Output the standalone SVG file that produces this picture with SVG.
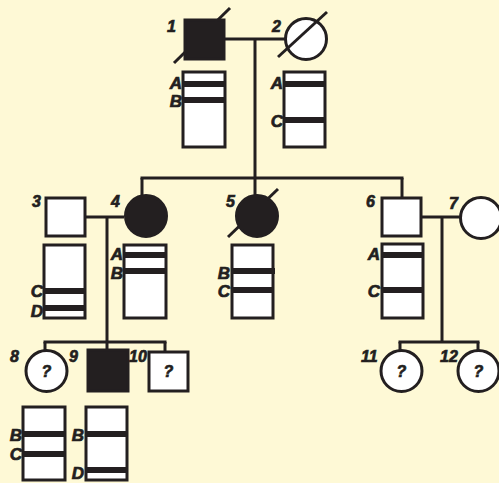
<svg xmlns="http://www.w3.org/2000/svg" width="499" height="483" viewBox="0 0 499 483">
<style>
.ln{stroke:#231F20;stroke-width:3;fill:none}
.sym{stroke:#231F20;stroke-width:3;fill:#fff}
.aff{stroke:#231F20;stroke-width:3;fill:#231F20}
.box{stroke:#231F20;stroke-width:3;fill:#fff}
.band{fill:#231F20}
.lb,.lt,.q{font-family:"Liberation Sans",Arial,sans-serif;font-weight:bold;font-style:italic;fill:#231F20;stroke:#231F20;stroke-width:0.7}
.lb{font-size:16px}
.lt{font-size:17px;text-anchor:end}
.q{font-size:16px;text-anchor:middle}
</style>
<rect x="0" y="0" width="499" height="483" fill="#FEF9D6"/>
<g id="connectors">
<line class="ln" x1="225" y1="39" x2="285" y2="39"/>
<line class="ln" x1="255" y1="39" x2="255" y2="178"/>
<line class="ln" x1="140.5" y1="178" x2="403.5" y2="178"/>
<line class="ln" x1="142" y1="178" x2="142" y2="195"/>
<line class="ln" x1="255" y1="178" x2="255" y2="195"/>
<line class="ln" x1="402" y1="178" x2="402" y2="197"/>
<line class="ln" x1="85" y1="217" x2="124" y2="217"/>
<line class="ln" x1="107" y1="217" x2="107" y2="349"/>
<line class="ln" x1="43.5" y1="342" x2="166.5" y2="342"/>
<line class="ln" x1="45" y1="342" x2="45" y2="351"/>
<line class="ln" x1="165" y1="342" x2="165" y2="352"/>
<line class="ln" x1="421" y1="217" x2="460" y2="217"/>
<line class="ln" x1="442" y1="217" x2="442" y2="342"/>
<line class="ln" x1="398.5" y1="342" x2="479.5" y2="342"/>
<line class="ln" x1="400" y1="342" x2="400" y2="351"/>
<line class="ln" x1="478" y1="342" x2="478" y2="351"/>
</g>
<g id="n1">
<rect class="aff" x="185" y="20" width="39" height="39"/>
<line class="ln" x1="174" y1="63" x2="230" y2="8"/>
<text class="lb" x="167" y="32">1</text>
<rect class="box" x="183" y="72" width="42" height="75"/>
<rect class="band" x="182" y="81" width="44" height="6"/>
<rect class="band" x="182" y="97" width="44" height="6"/>
<text class="lt" x="182" y="89">A</text>
<text class="lt" x="182" y="107">B</text>
</g>
<g id="n2">
<circle class="sym" cx="306" cy="39" r="20.5"/>
<line class="ln" x1="278" y1="57" x2="327" y2="12"/>
<text class="lb" x="272" y="32">2</text>
<rect class="box" x="284" y="72" width="41" height="75"/>
<rect class="band" x="283" y="81" width="43" height="6"/>
<rect class="band" x="283" y="117" width="43" height="6"/>
<text class="lt" x="283" y="89">A</text>
<text class="lt" x="283" y="127">C</text>
</g>
<g id="n3">
<rect class="sym" x="46" y="198" width="39" height="38"/>
<text class="lb" x="32" y="207">3</text>
<rect class="box" x="44" y="245" width="41" height="73"/>
<rect class="band" x="43" y="288" width="43" height="6"/>
<rect class="band" x="43" y="305" width="43" height="6"/>
<text class="lt" x="43" y="297">C</text>
<text class="lt" x="43" y="317">D</text>
</g>
<g id="n4">
<circle class="aff" cx="146" cy="216" r="20.5"/>
<text class="lb" x="111" y="207">4</text>
<rect class="box" x="124" y="245" width="42" height="73"/>
<rect class="band" x="123" y="252" width="44" height="6"/>
<rect class="band" x="123" y="268" width="44" height="6"/>
<text class="lt" x="123" y="260">A</text>
<text class="lt" x="123" y="279">B</text>
</g>
<g id="n5">
<circle class="aff" cx="257" cy="216" r="20.5"/>
<line class="ln" x1="228" y1="237" x2="278" y2="189"/>
<text class="lb" x="226" y="207">5</text>
<rect class="box" x="232" y="245" width="41" height="73"/>
<rect class="band" x="231" y="268" width="44" height="6"/>
<rect class="band" x="231" y="287" width="43" height="6"/>
<text class="lt" x="230" y="279">B</text>
<text class="lt" x="230" y="297">C</text>
</g>
<g id="n6">
<rect class="sym" x="382" y="198" width="39" height="38"/>
<text class="lb" x="366" y="207">6</text>
<rect class="box" x="382" y="244" width="41" height="74"/>
<rect class="band" x="381" y="252" width="43" height="6"/>
<rect class="band" x="381" y="287" width="43" height="6"/>
<text class="lt" x="380" y="260">A</text>
<text class="lt" x="380" y="297">C</text>
</g>
<g id="n7">
<circle class="sym" cx="481" cy="218" r="20.5"/>
<text class="lb" x="449" y="209">7</text>
</g>
<g id="n8">
<circle class="sym" cx="46.5" cy="371" r="20.5"/>
<text class="q" x="46.5" y="377">?</text>
<text class="lb" x="10" y="362">8</text>
<rect class="box" x="23" y="407" width="42" height="73"/>
<rect class="band" x="22" y="431" width="44" height="6"/>
<rect class="band" x="22" y="451" width="44" height="6"/>
<text class="lt" x="22" y="441">B</text>
<text class="lt" x="22" y="460">C</text>
</g>
<g id="n9">
<rect class="aff" x="88" y="350" width="40" height="41"/>
<text class="lb" x="69" y="362">9</text>
<rect class="box" x="86" y="407" width="41" height="73"/>
<rect class="band" x="85" y="431" width="43" height="6"/>
<rect class="band" x="85" y="467" width="43" height="6"/>
<text class="lt" x="84" y="441">B</text>
<text class="lt" x="84" y="479">D</text>
</g>
<g id="n10">
<rect class="sym" x="149" y="352" width="39" height="39"/>
<text class="q" x="168.5" y="377">?</text>
<text class="lb" x="129" y="362">10</text>
</g>
<g id="n11">
<circle class="sym" cx="401.5" cy="371" r="20.5"/>
<text class="q" x="401.5" y="377">?</text>
<text class="lb" x="361" y="362">11</text>
</g>
<g id="n12">
<circle class="sym" cx="478.5" cy="371" r="20.5"/>
<text class="q" x="478.5" y="377">?</text>
<text class="lb" x="440" y="362">12</text>
</g>
</svg>
